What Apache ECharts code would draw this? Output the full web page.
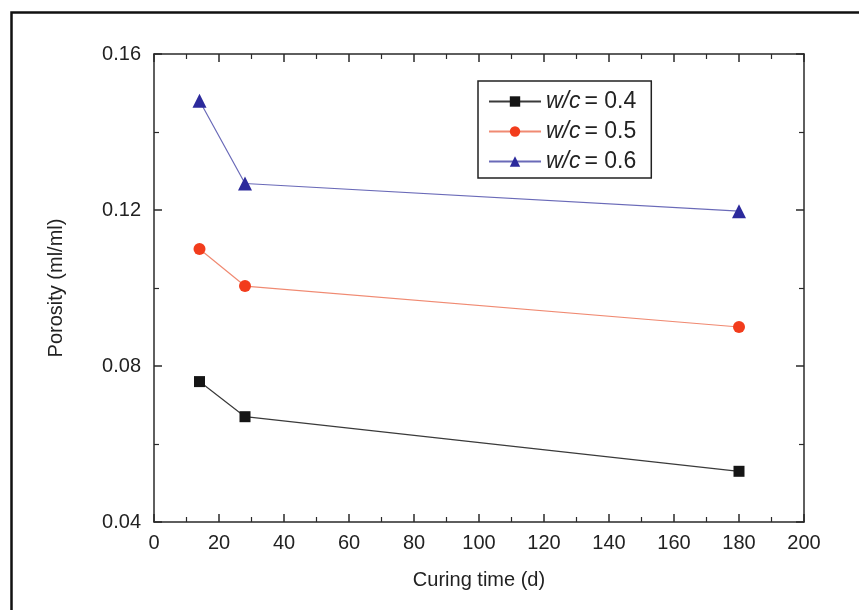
<!DOCTYPE html>
<html>
<head>
<meta charset="utf-8">
<script src="https://cdn.jsdelivr.net/npm/echarts@6/dist/echarts.min.js"></script>
<style>html,body{margin:0;padding:0;background:#fff}#c{width:859px;height:610px}</style>
</head>
<body>
<div id="c"></div>
<script>
const curingDays = [14, 28, 180];
const wc04 = [0.076, 0.067, 0.053];
const wc05 = [0.110, 0.1005, 0.090];
const wc06 = [0.148, 0.1268, 0.1197];
const seriesNames = ['w/c = 0.4', 'w/c = 0.5', 'w/c = 0.6'];
const yTickLabels = ['0.04', '0.08', '0.12', '0.16'];

const FONT = '"Liberation Sans", Arial, sans-serif';
const chart = echarts.init(document.getElementById('c'), null, {renderer: 'canvas'});

function pairs(vals) { return curingDays.map((d, i) => [d, vals[i]]); }

function axisBase(extra) {
  return Object.assign({
    axisLine: {show: true, onZero: false, lineStyle: {color: '#2a2a2a', width: 1.5}},
    axisTick: {show: true, inside: true, length: 8, lineStyle: {color: '#2a2a2a', width: 1.5}},
    minorTick: {show: true, splitNumber: 2, length: 5, lineStyle: {color: '#2a2a2a', width: 1.2}},
    splitLine: {show: false}
  }, extra);
}

chart.setOption({
  animation: false,
  backgroundColor: '#fff',
  graphic: [{
    type: 'rect', left: 9, top: 10, z: 100,
    shape: {x: 0, y: 0, width: 900, height: 700},
    style: {fill: 'none', stroke: '#111', lineWidth: 2.5}
  }],
  grid: {left: 154, right: 55, top: 54, bottom: 88},
  legend: {
    orient: 'vertical', left: 478, top: 81,
    data: seriesNames,
    itemWidth: 52, itemHeight: 13, itemGap: 7,
    padding: [9, 15, 5, 10],
    borderColor: '#222', borderWidth: 1.5,
    formatter: function (n) { return '{i|w/c}{n|= ' + n.split('= ')[1] + '}'; },
    textStyle: {
      fontFamily: FONT, fontSize: 23, color: '#222',
      rich: {
        i: {fontStyle: 'italic', fontFamily: FONT, fontSize: 23, color: '#222', padding: [0, 4, 0, 0]},
        n: {fontFamily: FONT, fontSize: 23, color: '#222'}
      }
    }
  },
  xAxis: [
    axisBase({
      type: 'value', position: 'bottom', min: 0, max: 200, interval: 20,
      name: 'Curing time (d)', nameLocation: 'middle', nameGap: 48,
      nameTextStyle: {fontFamily: FONT, fontSize: 20, color: '#222'},
      axisLabel: {fontFamily: FONT, fontSize: 20, color: '#222', margin: 11}
    }),
    axisBase({
      type: 'value', position: 'top', min: 0, max: 200, interval: 20,
      axisLabel: {show: false}
    })
  ],
  yAxis: [
    axisBase({
      type: 'value', position: 'left', min: 0.04, max: 0.16, interval: 0.04,
      name: 'Porosity (ml/ml)', nameLocation: 'middle', nameGap: 88,
      nameTextStyle: {fontFamily: FONT, fontSize: 20, color: '#222'},
      axisLabel: {
        fontFamily: FONT, fontSize: 20, color: '#222', margin: 13,
        formatter: function (v) {
          const s = v.toFixed(2);
          return yTickLabels.indexOf(s) >= 0 ? s : '';
        }
      }
    }),
    axisBase({
      type: 'value', position: 'right', min: 0.04, max: 0.16, interval: 0.04,
      axisLabel: {show: false}
    })
  ],
  series: [
    {
      name: seriesNames[0], type: 'line', data: pairs(wc04),
      symbol: 'rect', symbolSize: 11,
      itemStyle: {color: '#151515'},
      lineStyle: {color: '#3a3a3a', width: 1.2}
    },
    {
      name: seriesNames[1], type: 'line', data: pairs(wc05),
      symbol: 'circle', symbolSize: 12,
      itemStyle: {color: '#f23c1c'},
      lineStyle: {color: '#f08a72', width: 1.2}
    },
    {
      name: seriesNames[2], type: 'line', data: pairs(wc06),
      symbol: 'triangle', symbolSize: 14,
      itemStyle: {color: '#2c2a9c'},
      lineStyle: {color: '#6a6ab8', width: 1.2}
    }
  ]
});
</script>
</body>
</html>
